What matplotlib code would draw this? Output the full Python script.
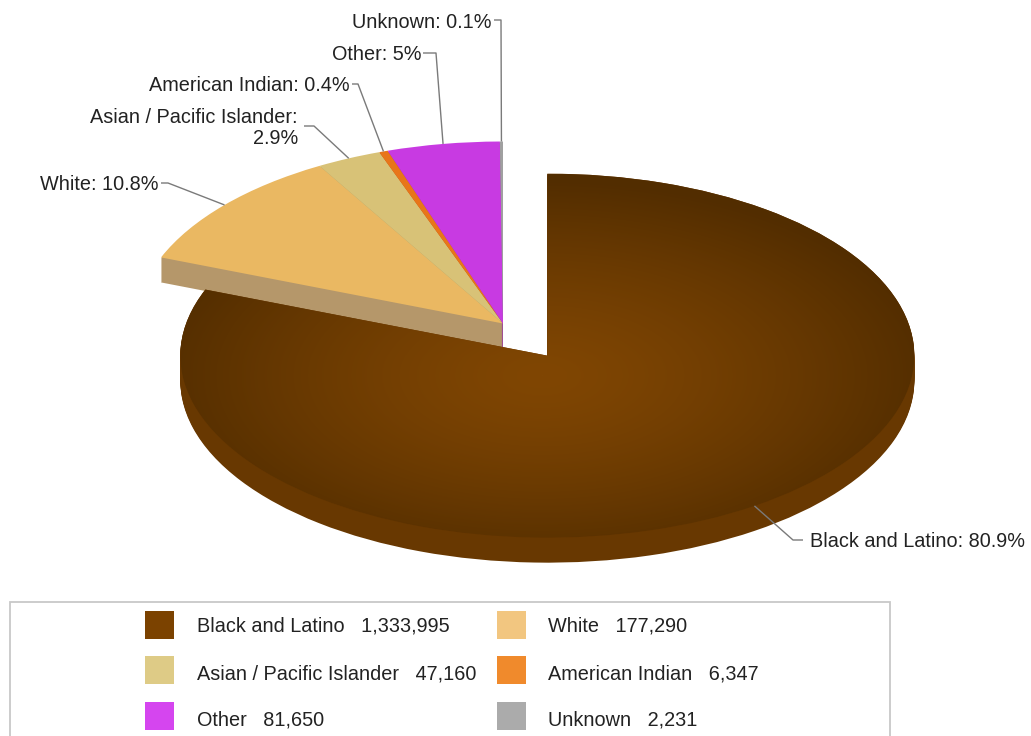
import numpy as np
import matplotlib
matplotlib.use("Agg")
import matplotlib.pyplot as plt
import matplotlib.colors as mcolors
from matplotlib.patches import Rectangle

plt.rcParams['font.family'] = ['Liberation Sans', 'DejaVu Sans']

# ---------------- data ----------------
categories = ['Black and Latino', 'White', 'Asian / Pacific Islander',
              'American Indian', 'Other', 'Unknown']
values = [1333995, 177290, 47160, 6347, 81650, 2231]

# ---------------- style ----------------
top_colors = ['#6e3b04', '#eab862', '#d8c277', '#e8751a', '#c83ae2', '#a0a0a0']
side_colors = ['#683801', '#b5976a', '#b0a066', '#b85a10', '#9a2cb0', '#888888']
legend_colors = ['#7b4200', '#f2c680', '#decb86', '#f08a2c', '#d545ef', '#ababab']
text_color = '#222222'
line_color = '#7a7a7a'
FS = 14.3

W, H = 1031, 736
RX, RY = 367.0, 182.0
K = RY / RX
DEPTH = 25
CX, CY = 503.0, 323.5
explode = [0.214 * RX, 0, 0, 0, 0, 0]


def P(x, y):
    """pixel (y down) -> data coords"""
    return (x, (H - y) / K)


def to_px(xd, yd):
    return (xd, H - yd * K)


fig = plt.figure(figsize=(W / 100, H / 100), dpi=100)
ax = fig.add_axes([0, 0, 1, 1])

# extruded sides: stacked layers, deepest first
for d in range(DEPTH, 0, -1):
    ax.pie(values, colors=side_colors, startangle=90, counterclock=False,
           radius=RX, center=P(CX, CY + d), explode=explode,
           wedgeprops=dict(linewidth=0), frame=True)

# top surface
wedges, _ = ax.pie(values, colors=top_colors, startangle=90, counterclock=False,
                   radius=RX, center=P(CX, CY), explode=explode,
                   wedgeprops=dict(linewidth=0), frame=True)

# radial gradient on the big slice
bw = wedges[0]
bx, by = to_px(*bw.center)
nx, ny = int(2 * RX) + 1, int(2 * RY) + 1
xs = np.linspace(bx - RX, bx + RX, nx)
ys = np.linspace(by - RY, by + RY, ny)
X, Y = np.meshgrid(xs, ys)
gx, gy = bx - 5, by + 20
dist = np.sqrt(((X - gx) / RX) ** 2 + ((Y - gy) / RY) ** 2)
t = np.clip(dist / 1.08, 0, 1) ** 1.4
c0 = np.array(mcolors.to_rgb('#804603'))
c1 = np.array(mcolors.to_rgb('#522d00'))
img = c0 * (1 - t[..., None]) + c1 * t[..., None]
im = ax.imshow(img, extent=(xs[0], xs[-1], (H - ys[-1]) / K, (H - ys[0]) / K),
               origin='upper', aspect='auto', zorder=1.5, interpolation='nearest')
im.set_clip_path(bw)

# ---------------- slice labels ----------------
total = float(sum(values))


def pct_text(v):
    s = f"{100.0 * v / total:.1f}"
    if s.endswith('.0'):
        s = s[:-2]
    return s + '%'


# (text x, baselines, ha, line start, elbow) in pixels
label_layout = [
    (810, [547], 'left', (803, 540), (793, 540)),
    (159, [190], 'right', (161, 183), (168, 183)),
    (298, [123, 144], 'right', (304, 126), (314, 126)),
    (350, [91], 'right', (352, 84), (358, 84)),
    (421, [60], 'right', (423, 53), (436, 53)),
    (491, [28], 'right', (494, 20), (501, 20)),
]

for i, w in enumerate(wedges):
    tx, bases, ha, start, elbow = label_layout[i]
    th = np.deg2rad((w.theta1 + w.theta2) / 2.0)
    anchor = (w.center[0] + w.r * np.cos(th), w.center[1] + w.r * np.sin(th))
    pts = [P(*start), P(*elbow), anchor]
    ax.plot([p[0] for p in pts], [p[1] for p in pts], color=line_color,
            lw=1.0, zorder=3, solid_capstyle='butt')
    name = categories[i]
    pct = pct_text(values[i])
    if len(bases) == 2:
        lines = [name + ':', pct]
    else:
        lines = [f"{name}: {pct}"]
    for ln, b in zip(lines, bases):
        ax.text(*P(tx, b), ln, ha=ha, va='baseline', fontsize=FS,
                color=text_color, zorder=4)

# ---------------- legend ----------------
def rect_px(x0, y0, x1, y1, **kw):
    return Rectangle(P(x0, y1), x1 - x0, (y1 - y0) / K, **kw)


ax.add_patch(rect_px(10, 602, 890, 760, facecolor='none',
                     edgecolor='#c8c8c8', lw=1.3, zorder=5))

sq_x = [145, 497]
txt_x = [197, 548]
sq_top = [611, 656, 702]
txt_base = [632, 679, 725]
for i, name in enumerate(categories):
    r, c = divmod(i, 2)
    ax.add_patch(rect_px(sq_x[c], sq_top[r], sq_x[c] + 29, sq_top[r] + 28,
                         facecolor=legend_colors[i], edgecolor='none', zorder=5))
    ax.text(*P(txt_x[c], txt_base[r]), f"{name}   {values[i]:,}",
            ha='left', va='baseline', fontsize=FS, color=text_color, zorder=6)

ax.set_xlim(0, W)
ax.set_ylim(0, H / K)
ax.set_axis_off()

fig.savefig('out.png', dpi=100, facecolor='white')
